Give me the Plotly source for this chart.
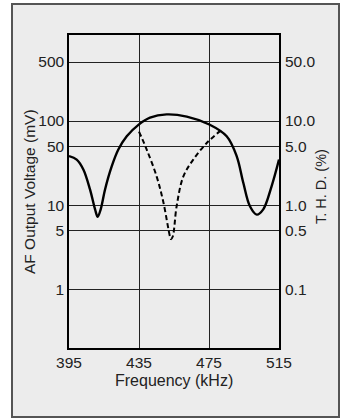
import plotly.graph_objects as go

# AF output voltage (mV) vs frequency (kHz)
freq_af = [395, 399.4, 403.2, 407, 409.9, 411.4, 413.1, 415.6, 419.4, 423.2, 428,
           435, 441.3, 450.8, 462.3, 475.2, 485.1, 490.8, 494.6, 498.4, 502.3,
           506, 510.8, 515]
af_mv = [38.5, 35, 26.7, 15.5, 9, 7.35, 9, 15.5, 29, 46, 66,
         91.4, 110, 120, 113, 91, 66, 38.5, 18.6, 9.8, 7.8,
         9, 17, 35]

# T.H.D. (%) vs frequency (kHz)
freq_thd = [435, 439.4, 445.1, 448.9, 452.7, 453.3, 454.3, 456.5, 460.3, 466, 473.7, 481.3]
thd_pct = [7.5, 4.6, 2.2, 1.1, 0.43, 0.40, 0.43, 0.98, 2.2, 3.5, 5.5, 7.6]

x_ticks = [395, 435, 475, 515]
left_ticks = [1, 5, 10, 50, 100, 500]
right_ticks = [0.1, 0.5, 1, 5, 10, 50]
right_labels = ["0.1", "0.5", "1.0", "5.0", "10.0", "50.0"]

FONT = "Liberation Sans, Arial, sans-serif"
INK = '#222222'

fig = go.Figure()
fig.add_trace(go.Scatter(x=freq_af, y=af_mv, mode='lines', line_shape='spline',
                         line=dict(color='black', width=2.4), showlegend=False))
fig.add_trace(go.Scatter(x=freq_thd, y=thd_pct, mode='lines', line_shape='spline', yaxis='y2',
                         line=dict(color='black', width=2, dash='5px,3px'), showlegend=False))

# plot area: x 69..279, y 35..348 px
L, R, T, B = 69, 68, 35, 71
pw, ph = 347 - L - R, 419 - T - B


def px(x):
    return (x - L) / pw


def py(y):
    return (419 - B - y) / ph


fig.add_shape(type='rect', xref='paper', yref='paper', layer='below',
              x0=px(12), x1=px(339), y0=py(417), y1=py(4),
              fillcolor='#ececec', line=dict(color='#555555', width=2))

fig.add_annotation(text='Frequency (kHz)', xref='paper', yref='paper', x=0.5, y=py(380),
                   xanchor='center', yanchor='middle',
                   showarrow=False, font=dict(size=16, color=INK))
fig.add_annotation(text='AF Output Voltage (mV)', xref='paper', yref='paper', x=px(29), y=py(192),
                   xanchor='center', yanchor='middle',
                   textangle=-90, showarrow=False, font=dict(size=15.5, color=INK))
fig.add_annotation(text='T. H. D. (%)', xref='paper', yref='paper', x=px(321), y=py(187),
                   xanchor='center', yanchor='middle',
                   textangle=-90, showarrow=False, font=dict(size=14.5, color=INK))

fig.update_layout(
    width=347, height=419,
    margin=dict(l=L, r=R, t=T, b=B),
    paper_bgcolor='white', plot_bgcolor='white',
    font=dict(family=FONT, size=15.5, color=INK),
    xaxis=dict(range=[395, 515], tickvals=x_ticks, showgrid=True, gridcolor='#222222',
               gridwidth=1, showline=True, linecolor='black', linewidth=1.5, mirror=True,
               ticks='', zeroline=False, automargin=False, ticklabelstandoff=0),
    yaxis=dict(type='log', range=[-0.687, 3.019], tickvals=left_ticks,
               ticktext=[str(v) for v in left_ticks],
               showgrid=True, gridcolor='#222222', gridwidth=1, showline=True,
               linecolor='black', linewidth=1.5, mirror=True, ticks='',
               automargin=False, ticklabelstandoff=0),
    yaxis2=dict(type='log', range=[-1.687, 2.019], tickvals=right_ticks, ticktext=right_labels,
                overlaying='y', side='right', showgrid=False, ticks='', zeroline=False,
                automargin=False, ticklabelstandoff=5),
)

# page body margin would shift the figure by 8px
fig.write_html("out.html", config={'displayModeBar': False},
               post_script="document.body.style.margin='0';")
